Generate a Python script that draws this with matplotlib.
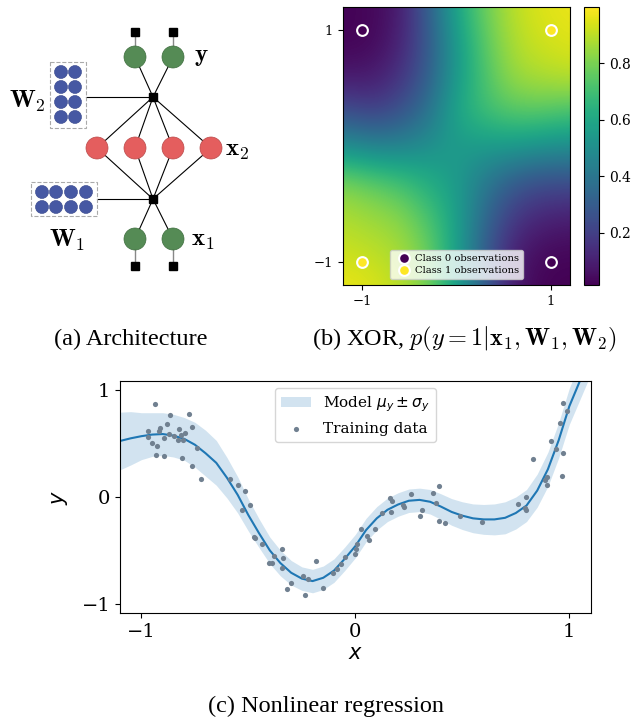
import matplotlib.pyplot as plt
import numpy as np
from matplotlib.patches import Circle, Rectangle

plt.rcParams['font.family'] = 'DejaVu Serif'

# --- (a) network diagram, in pixel units of the panel ---
top_squares = [(135, 32), (173, 32)]
y_nodes = [(135, 57), (173, 57)]
factor2 = (153, 97)
hidden_nodes = [(97, 148), (135, 148), (173, 148), (211, 148)]
factor1 = (153, 199)
x_nodes = [(135, 239), (173, 239)]
bottom_squares = [(135, 266), (173, 266)]
w2_cols = [61, 75]
w2_rows = [72, 87, 102, 117]
w1_cols = [42, 56, 71, 86]
w1_rows = [192, 207]

# --- (b) XOR probability, read on a 0.3 grid from x=-1.2..1.2, y=1.2..-1.2 ---
xor_grid = np.array([
    [0.02, 0.03, 0.08, 0.30, 0.60, 0.78, 0.90, 0.95, 0.97],
    [0.02, 0.03, 0.10, 0.28, 0.55, 0.75, 0.88, 0.93, 0.95],
    [0.08, 0.08, 0.15, 0.30, 0.55, 0.72, 0.85, 0.88, 0.90],
    [0.25, 0.20, 0.25, 0.38, 0.60, 0.70, 0.75, 0.75, 0.72],
    [0.50, 0.45, 0.45, 0.50, 0.55, 0.55, 0.55, 0.52, 0.50],
    [0.80, 0.75, 0.70, 0.62, 0.55, 0.42, 0.30, 0.25, 0.25],
    [0.88, 0.85, 0.82, 0.72, 0.58, 0.35, 0.18, 0.12, 0.10],
    [0.92, 0.90, 0.87, 0.78, 0.58, 0.30, 0.10, 0.04, 0.03],
    [0.97, 0.95, 0.90, 0.80, 0.58, 0.30, 0.08, 0.02, 0.015],
])
xor_x = [-1, 1, -1, 1]
xor_y = [1, 1, -1, -1]
xor_class = [0, 1, 1, 0]

# --- (c) regression ---
reg_x = [-1.10, -1.05, -1.00, -0.95, -0.90, -0.85, -0.80, -0.75, -0.70, -0.65,
         -0.60, -0.55, -0.50, -0.45, -0.40, -0.35, -0.30, -0.25, -0.20, -0.15,
         -0.10, -0.05, 0.00, 0.05, 0.10, 0.15, 0.20, 0.25, 0.30, 0.35,
         0.40, 0.45, 0.50, 0.55, 0.60, 0.65, 0.70, 0.75, 0.80, 0.85,
         0.90, 0.95, 1.00, 1.05, 1.10]
reg_mean = [0.525, 0.55, 0.57, 0.585, 0.59, 0.575, 0.545, 0.49, 0.41, 0.32,
            0.18, 0.02, -0.17, -0.34, -0.50, -0.62, -0.71, -0.765, -0.788, -0.757,
            -0.69, -0.58, -0.46, -0.31, -0.20, -0.12, -0.07, -0.035, -0.027, -0.045,
            -0.09, -0.14, -0.175, -0.20, -0.21, -0.21, -0.195, -0.15, -0.08, 0.06,
            0.26, 0.53, 0.85, 1.09, 1.33]
reg_std = [0.27, 0.25, 0.22, 0.205, 0.20, 0.20, 0.20, 0.21, 0.215, 0.21,
           0.19, 0.17, 0.15, 0.135, 0.125, 0.12, 0.115, 0.11, 0.11, 0.11,
           0.11, 0.11, 0.11, 0.11, 0.11, 0.11, 0.11, 0.11, 0.11, 0.115,
           0.12, 0.125, 0.13, 0.135, 0.14, 0.145, 0.15, 0.15, 0.15, 0.155,
           0.16, 0.165, 0.17, 0.175, 0.18]

train_x = [-0.935, -0.776, -0.868, -0.880, -0.914, -0.970, -0.917, -0.826, -0.763, -0.794,
           -0.813, -0.872, -0.847, -0.970, -0.894, -0.829, -0.804, -0.950, -0.928, -0.741,
           -0.932, -0.895, -0.808, -0.765, -0.720, -0.587,
           -0.548, -0.517, -0.491, -0.530, -0.475, -0.468, -0.436, -0.382, -0.405, -0.389,
           -0.343, -0.338, -0.343, -0.299, -0.319, -0.246, -0.221, -0.237, -0.184, -0.150,
           -0.106, -0.086, -0.065, -0.050, -0.003, 0.003, 0.010,
           0.028, 0.055, 0.062, 0.090, 0.123, 0.162, 0.169, 0.168, 0.223, 0.226,
           0.258, 0.303, 0.312, 0.362, 0.393, 0.379, 0.389, 0.421, 0.491,
           0.592, 0.760, 0.798, 0.794, 0.798, 0.832, 0.885, 0.894, 0.897, 0.916,
           0.938, 0.969, 0.967, 0.955, 0.969, 0.991]
train_y = [0.876, 0.782, 0.766, 0.688, 0.651, 0.623, 0.616, 0.641, 0.657, 0.598,
           0.579, 0.591, 0.576, 0.563, 0.557, 0.532, 0.535, 0.510, 0.476, 0.460,
           0.394, 0.388, 0.369, 0.291, 0.166, 0.166,
           0.116, 0.053, -0.072, -0.125, -0.375, -0.385, -0.441, -0.556, -0.616, -0.616,
           -0.484, -0.569, -0.666, -0.807, -0.859, -0.744, -0.772, -0.916, -0.600, -0.850,
           -0.713, -0.672, -0.625, -0.563, -0.531, -0.484, -0.440,
           -0.303, -0.366, -0.406, -0.303, -0.150, -0.008, -0.034, -0.140, -0.072, -0.094,
           0.025, -0.174, -0.119, 0.033, 0.107, -0.053, -0.224, -0.240, -0.181,
           -0.234, -0.068, 0.004, -0.100, -0.119, 0.354, 0.160, 0.191, 0.110, 0.529,
           0.454, 0.413, 0.194, 0.691, 0.885, 0.807]

W, H = 632, 719
fig = plt.figure(figsize=(W / 100, H / 100), dpi=100)


def frac(x0, y0, x1, y1):
    return [x0 / W, 1 - y1 / H, (x1 - x0) / W, (y1 - y0) / H]


# (a) Architecture
ax_a = fig.add_axes(frac(0, 0, 260, 290))
ax_a.set_xlim(0, 260)
ax_a.set_ylim(290, 0)
ax_a.axis('off')

green, red, blue = '#558b55', '#e45e5e', '#4658a3'
for (sx, sy), (nx, ny) in zip(top_squares + bottom_squares, y_nodes + x_nodes):
    ax_a.plot([sx, nx], [sy, ny], color='#888888', lw=1.0, zorder=1)
for nx, ny in y_nodes + hidden_nodes:
    ax_a.plot([factor2[0], nx], [factor2[1], ny], color='black', lw=0.8, zorder=1)
for nx, ny in hidden_nodes + x_nodes:
    ax_a.plot([factor1[0], nx], [factor1[1], ny], color='black', lw=0.8, zorder=1)
ax_a.plot([86, factor2[0]], [factor2[1], factor2[1]], color='black', lw=0.8, zorder=1)
ax_a.plot([97, factor1[0]], [factor1[1], factor1[1]], color='black', lw=0.8, zorder=1)

for cx, cy in y_nodes + x_nodes:
    ax_a.add_patch(Circle((cx, cy), 11, fc=green, ec='#3f6e3f', lw=0.5, zorder=3))
for cx, cy in hidden_nodes:
    ax_a.add_patch(Circle((cx, cy), 11, fc=red, ec='#b94a4a', lw=0.5, zorder=3))
for sx, sy in top_squares + bottom_squares + [factor1, factor2]:
    ax_a.add_patch(Rectangle((sx - 4, sy - 4), 8, 8, fc='black', ec='black', zorder=4))

ax_a.add_patch(Rectangle((50, 62), 36, 66, fc='none', ec='#aaaaaa', lw=0.8, ls='--', zorder=2))
ax_a.add_patch(Rectangle((31, 182), 66, 34, fc='none', ec='#aaaaaa', lw=0.8, ls='--', zorder=2))
for cx in w2_cols:
    for cy in w2_rows:
        ax_a.add_patch(Circle((cx, cy), 6.5, fc=blue, ec='#34448a', lw=0.4, zorder=3))
for cx in w1_cols:
    for cy in w1_rows:
        ax_a.add_patch(Circle((cx, cy), 6.5, fc=blue, ec='#34448a', lw=0.4, zorder=3))

lab = dict(math_fontfamily='cm', fontsize=18, ha='left', va='center')
ax_a.text(194, 56, r'$\mathbf{y}$', **lab)
ax_a.text(225, 150, r'$\mathbf{x}_2$', **lab)
ax_a.text(191, 240, r'$\mathbf{x}_1$', **lab)
ax_a.text(9, 101, r'$\mathbf{W}_2$', **lab)
ax_a.text(49, 240, r'$\mathbf{W}_1$', **lab)

# (b) XOR heatmap
ax_b = fig.add_axes(frac(343, 7, 570, 285))
im = ax_b.imshow(xor_grid, extent=[-1.35, 1.35, -1.35, 1.35], origin='upper',
                 cmap='viridis', vmin=0.014, vmax=0.999, interpolation='bicubic',
                 aspect='auto')
ax_b.set_xlim(-1.2, 1.2)
ax_b.set_ylim(-1.2, 1.2)
cmap = plt.get_cmap('viridis')
for cls in (0, 1):
    px = [x for x, c in zip(xor_x, xor_class) if c == cls]
    py = [y for y, c in zip(xor_y, xor_class) if c == cls]
    ax_b.scatter(px, py, s=60, color=cmap(float(cls)), edgecolors='white',
                 linewidths=1.5, zorder=3, label=f'Class {cls} observations')
ax_b.set_xticks([-1, 1])
ax_b.set_yticks([-1, 1])
ax_b.tick_params(labelsize=9.5)
ax_b.legend(loc='lower center', fontsize=7.2, handletextpad=0.1,
            borderpad=0.4, labelspacing=0.3, borderaxespad=0.6)

cax = fig.add_axes(frac(584, 7, 599, 285))
cb = fig.colorbar(im, cax=cax)
cb.set_ticks([0.2, 0.4, 0.6, 0.8])
cax.tick_params(labelsize=10)

# (c) regression
ax_c = fig.add_axes(frac(120, 380.7, 590.7, 613.3))
lo = [m - s for m, s in zip(reg_mean, reg_std)]
hi = [m + s for m, s in zip(reg_mean, reg_std)]
ax_c.fill_between(reg_x, lo, hi, color='#1f77b4', alpha=0.2, lw=0,
                  label=r'Model $\mu_y \pm \sigma_y$')
ax_c.plot(reg_x, reg_mean, color='#1f77b4', lw=1.5)
ax_c.scatter(train_x, train_y, s=14, color='#708090', lw=0, zorder=3,
             label='Training data')
ax_c.set_xlim(-1.1, 1.1)
ax_c.set_ylim(-1.09, 1.09)
ax_c.set_xticks([-1, 0, 1])
ax_c.set_yticks([-1, 0, 1])
ax_c.tick_params(labelsize=14)
ax_c.set_xlabel('$x$', fontsize=15, labelpad=2)
ax_c.set_ylabel('$y$', fontsize=15, labelpad=8)
ax_c.legend(loc='upper center', fontsize=11, scatterpoints=1)

# captions
cap = dict(family='Liberation Serif', fontsize=17.5, ha='center', va='center',
           math_fontfamily='cm')
fig.text(131 / W, 1 - 339 / H, '(a) Architecture', **cap)
fig.text(465 / W, 1 - 339 / H,
         r'(b) XOR, $p(y=1|\mathbf{x}_1,\mathbf{W}_1,\mathbf{W}_2)$', **cap)
fig.text(326 / W, 1 - 706 / H, '(c) Nonlinear regression', **cap)

fig.savefig('out.png', dpi=100)
